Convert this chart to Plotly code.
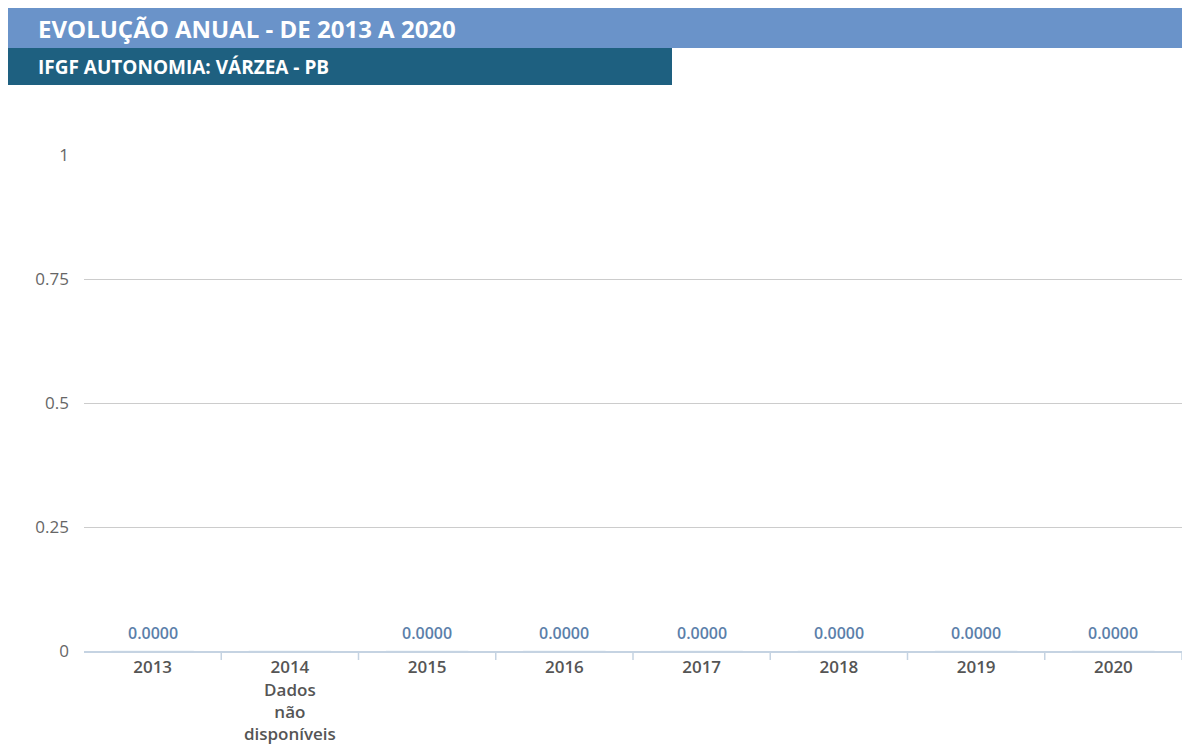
import plotly.graph_objects as go

anos = ["2013", "2014", "2015", "2016", "2017", "2018", "2019", "2020"]
rotulos = ["2013", "2014<br>Dados<br>não<br>disponíveis", "2015", "2016", "2017", "2018", "2019", "2020"]
valores = [0.0, None, 0.0, 0.0, 0.0, 0.0, 0.0, 0.0]
y_ticks = [0, 0.25, 0.5, 0.75, 1]
y_ticktext = ["0", "0.25", "0.5", "0.75", "1"]
titulo = "EVOLUÇÃO ANUAL - DE 2013 A 2020"
subtitulo = "IFGF AUTONOMIA: VÁRZEA - PB"

W, H = 1182, 746
L, R, T, B = 84, 0, 155, 95
PW = W - L - R
PH = H - T - B

def px(x):
    return (x - L) / PW

def py(y):
    return (H - B - y) / PH

idx = list(range(len(anos)))

fig = go.Figure()
fig.add_trace(go.Bar(
    x=idx, y=[0 if v is None else v for v in valores],
    marker_color="#5b7faa", width=0.6, hoverinfo="skip",
))

for i, v in zip(idx, valores):
    if v is None:
        continue
    fig.add_annotation(x=i, y=v, xref="x", yref="y", text=f"{v:.4f}",
                       showarrow=False, yanchor="bottom", yshift=5,
                       font=dict(color="#5b7faa", size=16, family="Open Sans", weight=600))

fig.add_shape(type="rect", xref="paper", yref="paper",
              x0=px(8), x1=px(1182), y0=py(48), y1=py(8),
              fillcolor="#6a93c9", line_width=0, layer="below")
fig.add_shape(type="rect", xref="paper", yref="paper",
              x0=px(8), x1=px(672), y0=py(85), y1=py(48),
              fillcolor="#1e6080", line_width=0, layer="below")
fig.add_annotation(text=f"<b>{titulo}</b>", xref="paper", yref="paper",
                   x=px(36), y=py(29), xanchor="left", yanchor="middle",
                   showarrow=False, font=dict(color="white", size=24, family="Open Sans"))
fig.add_annotation(text=f"<b>{subtitulo}</b>", xref="paper", yref="paper",
                   x=px(36), y=py(67), xanchor="left", yanchor="middle",
                   showarrow=False, font=dict(color="white", size=19, family="Open Sans"))

fig.update_layout(
    width=W, height=H,
    margin=dict(l=L, r=R, t=T, b=B),
    paper_bgcolor="white", plot_bgcolor="white",
    showlegend=False,
    font=dict(family="Open Sans", color="#555555"),
    xaxis=dict(
        range=[-0.5, len(anos) - 0.5],
        tickmode="array", tickvals=idx, ticktext=rotulos,
        ticks="", showline=True, linecolor="#c5d3e2", linewidth=2,
        showgrid=False, zeroline=False, tickangle=0,
        tickfont=dict(size=17, color="#555555", family="Open Sans", weight=600),
    ),
    yaxis=dict(
        range=[0, 1], tickvals=y_ticks, ticktext=y_ticktext,
        showgrid=True, gridcolor="#cccccc", gridwidth=1,
        zeroline=False, ticks="", ticklabelstandoff=14,
        tickfont=dict(size=17, color="#666666", family="Open Sans"),
    ),
)

# category boundary tick marks drawn on the x axis scale
for b in [i + 0.5 for i in idx]:
    fig.add_shape(type="line", xref="x", yref="paper", x0=b, x1=b,
                  y0=0, y1=-9 / PH, line=dict(color="#c5d3e2", width=1.5))

fig.write_html("out.html")
